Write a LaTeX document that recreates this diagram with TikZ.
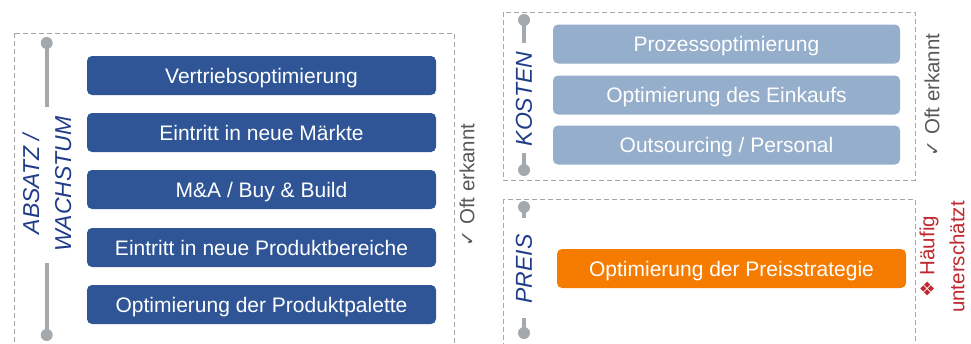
\documentclass[tikz,border=0pt]{standalone}
\usepackage{fontspec}
\setmainfont{Liberation Sans}
\newfontfamily\symfont{DejaVu Sans}
\definecolor{darkblue}{HTML}{2F5597}
\definecolor{lightblue}{HTML}{95AECB}
\definecolor{orangebox}{HTML}{F57C00}
\definecolor{labelblue}{HTML}{1F3C88}
\definecolor{axisgray}{HTML}{A3A9AD}
\definecolor{framegray}{HTML}{A6A6A6}
\definecolor{notegray}{HTML}{595959}
\definecolor{notered}{HTML}{C0282E}
\tikzset{
  actionbox/.style={rounded corners=5pt, minimum height=39pt, inner sep=0pt,
    text height=16pt, text depth=1pt,
    text=white, font=\fontsize{21}{25}\selectfont},
  darkbox/.style={actionbox, fill=darkblue, minimum width=349pt},
  lightbox/.style={actionbox, fill=lightblue, minimum width=347pt},
  orangebox/.style={actionbox, fill=orangebox, minimum width=349pt},
  frame/.style={draw=framegray, line width=0.9pt, dash pattern=on 5pt off 3pt},
  axislabel/.style={rotate=90, align=center, text=labelblue, inner sep=0pt,
    font=\fontsize{23}{32}\selectfont\itshape},
  axisdot/.style={circle, fill=axisgray, minimum size=12pt, inner sep=0pt},
  axisline/.style={draw=axisgray, line width=4pt},
  note/.style={rotate=90, align=center, inner sep=0pt,
    font=\fontsize{20.5}{30}\selectfont},
  notesym/.style={},
}
\newcommand{\checkglyph}{{\symfont\fontsize{19}{19}\selectfont ✓}}
\newcommand{\diamondglyph}{{\symfont\fontsize{19}{19}\selectfont ❖}}
\begin{document}
\begin{tikzpicture}[x=1pt,y=-1pt]
\useasboundingbox (0,0) rectangle (971,343);
\clip (0,0) rectangle (971,343);

% dashed group frames
\draw[frame] (14,33) rectangle (454,360);
\draw[frame] (503,12) rectangle (915,180);
\draw[frame] (503,199) rectangle (915,360);

% growth levers
\node[darkbox] (v1) at (261.5,75.5) {Vertriebsoptimierung};
\node[darkbox] (v2) at (261.5,132.5) {Eintritt in neue Märkte};
\node[darkbox] (v3) at (261.5,189.5) {M\&A / Buy \& Build};
\node[darkbox] (v4) at (261.5,247.5) {Eintritt in neue Produktbereiche};
\node[darkbox] (v5) at (261.5,304.5) {Optimierung der Produktpalette};

% cost levers
\node[lightbox] (k1) at (726.5,44) {Prozessoptimierung};
\node[lightbox] (k2) at (726.5,95) {Optimierung des Einkaufs};
\node[lightbox] (k3) at (726.5,145) {Outsourcing / Personal};

% price lever
\node[orangebox] (p1) at (731.5,268.5) {Optimierung der Preisstrategie};

% axis labels
\node[axislabel] (labA) at (47,184) {ABSATZ /\\WACHSTUM};
\node[axislabel] (labK) at (524,99) {KOSTEN};
\node[axislabel] (labP) at (524,269) {PREIS};

% axis bars with end dots
\node[axisdot] (aTop) at (46.7,43) {};
\node[axisdot] (aBot) at (46.7,335) {};
\coordinate (aTopEnd) at (46.7,107);
\coordinate (aBotEnd) at (46.7,263);
\draw[axisline] (aTop.center) -- (aTopEnd);
\draw[axisline] (aBot.center) -- (aBotEnd);

\node[axisdot] (kTop) at (524,20) {};
\node[axisdot] (kBot) at (524,170) {};
\coordinate (kTopEnd) at (524,43);
\coordinate (kBotEnd) at (524,153);
\draw[axisline] (kTop.center) -- (kTopEnd);
\draw[axisline] (kBot.center) -- (kBotEnd);

\node[axisdot] (pTop) at (524,207) {};
\node[axisdot] (pBot) at (524,333) {};
\coordinate (pTopEnd) at (524,218);
\coordinate (pBotEnd) at (524,318);
\draw[axisline] (pTop.center) -- (pTopEnd);
\draw[axisline] (pBot.center) -- (pBotEnd);

% side notes
\node[note, text=notegray] (noteA) at (467,185) {\checkglyph\ Oft erkannt};
\node[note, text=notegray] (noteK) at (932,95) {\checkglyph\ Oft erkannt};
\node[note, text=notered] (noteP) at (942,257) {\diamondglyph\ Häufig\\unterschätzt};
\end{tikzpicture}
\end{document}
